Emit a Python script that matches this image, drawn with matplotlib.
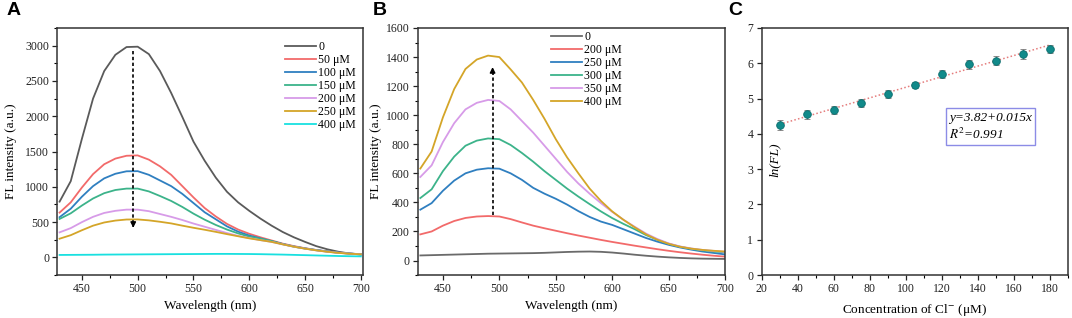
import matplotlib
matplotlib.use("Agg")
import matplotlib.pyplot as plt
from matplotlib.ticker import MultipleLocator
import numpy as np

plt.rcParams['font.family'] = ['Liberation Serif', 'DejaVu Serif']
plt.rcParams['mathtext.fontset'] = 'stix'

# wavelength grid (nm)
wl = [430, 440, 450, 460, 470, 480, 490, 500, 510, 520, 530, 540, 550, 560,
      570, 580, 590, 600, 610, 620, 630, 640, 650, 660, 670, 680, 690, 700]

# Panel A: quenching spectra
a_labels = ['0', '50 μM', '100 μM', '150 μM', '200 μM', '250 μM', '400 μM']
a_colors = ['#5a5a5a', '#f26a6a', '#2f7fc0', '#3cb38a', '#d79be8', '#d4a528', '#19e0e0']
a_0 = [790, 1080, 1680, 2250, 2640, 2870, 2980, 2985, 2880, 2640, 2330, 1990, 1640, 1370,
       1130, 930, 780, 660, 550, 450, 360, 285, 220, 160, 115, 80, 55, 40]
a_50 = [635, 780, 990, 1180, 1320, 1400, 1440, 1445, 1385, 1290, 1170, 1010, 850, 700,
        580, 475, 395, 335, 285, 240, 195, 160, 130, 105, 85, 68, 55, 45]
a_100 = [570, 690, 860, 1010, 1120, 1185, 1220, 1222, 1170, 1090, 1010, 900, 770, 640,
         540, 440, 365, 310, 270, 230, 190, 155, 128, 105, 85, 68, 55, 45]
a_150 = [545, 625, 735, 835, 910, 955, 975, 975, 935, 870, 800, 715, 620, 535,
         460, 395, 340, 295, 265, 232, 188, 152, 125, 102, 82, 66, 54, 45]
a_200 = [355, 415, 500, 575, 630, 660, 677, 677, 655, 615, 575, 530, 480, 435,
         390, 345, 305, 275, 245, 220, 185, 152, 125, 100, 80, 65, 53, 44]
a_250 = [265, 315, 385, 450, 495, 522, 537, 538, 525, 505, 482, 450, 420, 392,
         362, 330, 300, 270, 245, 220, 185, 152, 124, 100, 80, 64, 52, 44]
a_400 = [35, 36, 37, 38, 40, 41, 42, 43, 44, 45, 46, 47, 48, 49,
         50, 50, 49, 48, 46, 43, 40, 36, 32, 28, 24, 20, 17, 15]
a_series = [a_0, a_50, a_100, a_150, a_200, a_250, a_400]
a_arrow = (496, 2920, 380)   # x, start, end

# Panel B: recovery spectra
b_labels = ['0', '200 μM', '250 μM', '300 μM', '350 μM', '400 μM']
b_colors = ['#6a6a6a', '#f26a6a', '#2f7fc0', '#3cb38a', '#d79be8', '#d4a528']
b_0 = [35, 37, 39, 41, 43, 45, 47, 48, 49, 50, 51, 53, 56, 59,
       61, 62, 60, 55, 48, 40, 33, 27, 22, 18, 15, 13, 12, 11]
b_200 = [180, 200, 240, 272, 293, 303, 306, 303, 285, 262, 240, 222, 205, 188,
         172, 157, 142, 128, 115, 102, 90, 78, 67, 57, 48, 40, 33, 27]
b_250 = [350, 395, 480, 550, 600, 625, 635, 632, 600, 555, 500, 460, 425, 385,
         340, 300, 268, 245, 215, 185, 155, 130, 108, 90, 75, 62, 52, 42]
b_300 = [430, 490, 615, 715, 790, 825, 840, 835, 795, 740, 680, 615, 555, 495,
         440, 388, 338, 292, 252, 215, 175, 143, 115, 95, 80, 70, 62, 56]
b_350 = [575, 655, 815, 945, 1040, 1085, 1105, 1098, 1040, 960, 880, 790, 700, 610,
         530, 460, 395, 335, 280, 232, 185, 148, 118, 97, 83, 73, 66, 60]
b_400 = [633, 750, 985, 1180, 1318, 1383, 1410, 1400, 1315, 1225, 1105, 975, 835, 710,
         600, 495, 410, 338, 280, 228, 180, 143, 115, 95, 82, 73, 67, 62]
b_series = [b_0, b_200, b_250, b_300, b_350, b_400]
b_arrow = (494, 311, 1350)

# Panel C: linear fit
c_conc = [30, 45, 60, 75, 90, 105, 120, 135, 150, 165, 180]
c_lnfl = [4.25, 4.55, 4.68, 4.88, 5.13, 5.38, 5.70, 5.97, 6.07, 6.27, 6.40]
c_err = [0.13, 0.14, 0.11, 0.12, 0.10, 0.08, 0.12, 0.13, 0.13, 0.14, 0.12]
fit_x = [30, 180]
fit_y = [4.27, 6.52]

fig = plt.figure(figsize=(10.72, 3.18), dpi=100)
bot, h = 0.135, 0.777
axA = fig.add_axes([0.0535, bot, 0.2852, h])
axB = fig.add_axes([0.390, bot, 0.2864, h])
axC = fig.add_axes([0.7105, bot, 0.2857, h])

for ax in (axA, axB, axC):
    for s in ax.spines.values():
        s.set_color('#333333')
        s.set_linewidth(1.1)
    ax.tick_params(direction='out', length=3.5, width=0.9, labelsize=8.5, colors='#222222', pad=2.5)
    ax.tick_params(which='minor', direction='out', length=2, width=0.8)

# A
for y, c, lab in zip(a_series, a_colors, a_labels):
    axA.plot(wl, y, color=c, lw=1.3, label=lab)
axA.plot([a_arrow[0]] * 2, [a_arrow[1], a_arrow[2] + 60], color='k', ls=(0, (2, 1.5)), lw=1.2)
axA.annotate('', xy=(a_arrow[0], a_arrow[2]), xytext=(a_arrow[0], a_arrow[2] + 120),
             arrowprops=dict(arrowstyle='-|>', color='k', lw=1.0, mutation_scale=8))
axA.set_xlim(428, 702)
axA.set_ylim(-250, 3250)
axA.xaxis.set_major_locator(MultipleLocator(50))
axA.xaxis.set_minor_locator(MultipleLocator(25))
axA.yaxis.set_major_locator(MultipleLocator(500))
axA.yaxis.set_minor_locator(MultipleLocator(250))
axA.set_xlabel('Wavelength (nm)', fontsize=9.5, labelpad=3)
axA.set_ylabel('FL intensity (a.u.)', fontsize=9.5, labelpad=6)
axA.legend(loc='upper right', bbox_to_anchor=(1.0, 0.975), frameon=False, fontsize=8.5,
           handlelength=2.6, handletextpad=0.2, labelspacing=0.08, borderaxespad=0.2)

# B
for y, c, lab in zip(b_series, b_colors, b_labels):
    axB.plot(wl, y, color=c, lw=1.3, label=lab)
axB.plot([b_arrow[0]] * 2, [b_arrow[1], b_arrow[2] - 30], color='k', ls=(0, (2, 1.5)), lw=1.2)
axB.annotate('', xy=(b_arrow[0], b_arrow[2]), xytext=(b_arrow[0], b_arrow[2] - 60),
             arrowprops=dict(arrowstyle='-|>', color='k', lw=1.0, mutation_scale=8))
axB.set_xlim(428, 700)
axB.set_ylim(-100, 1600)
axB.xaxis.set_major_locator(MultipleLocator(50))
axB.xaxis.set_minor_locator(MultipleLocator(25))
axB.yaxis.set_major_locator(MultipleLocator(200))
axB.yaxis.set_minor_locator(MultipleLocator(100))
axB.set_xlabel('Wavelength (nm)', fontsize=9.5, labelpad=3)
axB.set_ylabel('FL intensity (a.u.)', fontsize=9.5, labelpad=3)
axB.legend(loc='upper left', bbox_to_anchor=(0.41, 1.015), frameon=False, fontsize=8.5,
           handlelength=2.6, handletextpad=0.2, labelspacing=0.08, borderaxespad=0.2)

# C
axC.plot(fit_x, fit_y, color='#e57c7c', ls=(0, (1, 1.5)), lw=1.1)
axC.errorbar(c_conc, c_lnfl, yerr=c_err, fmt='o', color='#118a8a', ms=5.5,
             mec='#0a6d6d', mew=0.6, ecolor='#777777', elinewidth=0.9, capsize=2.5, capthick=0.9)
axC.set_xlim(20, 190)
axC.set_ylim(0, 7)
axC.xaxis.set_major_locator(MultipleLocator(20))
axC.xaxis.set_minor_locator(MultipleLocator(10))
axC.yaxis.set_major_locator(MultipleLocator(1))
axC.set_xlabel('Concentration of Cl$^{-}$ (μM)', fontsize=9.5, labelpad=5)
axC.text(0.043, 0.466, 'ln(FL)', transform=axC.transAxes, rotation=90,
         fontsize=9.5, style='italic', ha='center', va='center')
axC.text(0.612, 0.6, 'y=3.82+0.015x\n$R^2$=0.991', transform=axC.transAxes,
         fontsize=9.5, style='italic', ha='left', va='center', linespacing=1.25,
         bbox=dict(boxstyle='square,pad=0.25', fc='white', ec='#8c8ce6', lw=1.0))

# panel letters
for x, t in [(0.006, 'A'), (0.348, 'B'), (0.679, 'C')]:
    fig.text(x, 0.995, t, fontsize=14, fontweight='bold', family='Liberation Sans', va='top')

fig.savefig('out.png', dpi=100)
